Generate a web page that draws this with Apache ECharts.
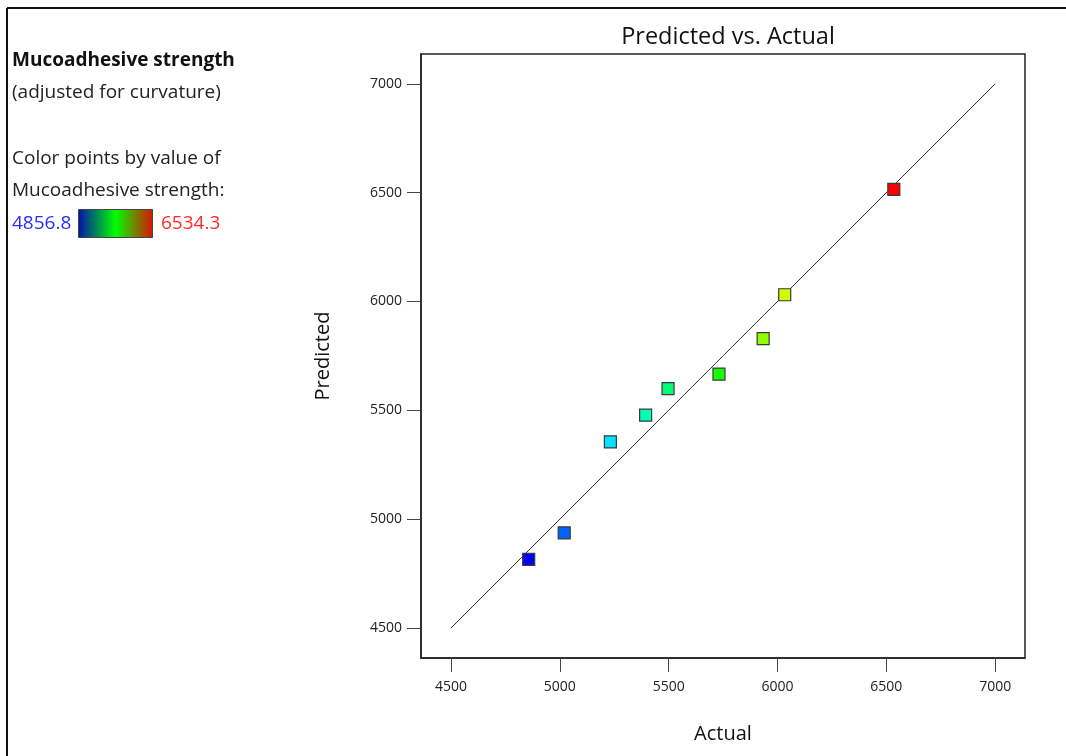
<!DOCTYPE html>
<html>
<head>
<meta charset="utf-8">
<title>Predicted vs. Actual</title>
<script src="https://cdn.jsdelivr.net/npm/echarts@6/dist/echarts.min.js"></script>
<style>
  html, body { margin: 0; padding: 0; background: #fff; }
  #chart { width: 1066px; height: 756px; }
</style>
</head>
<body>
<div id="chart"></div>
<script>
// 数据：实际值 / 预测值
var actual = [4856.8, 5020, 5232, 5394, 5497, 5731, 5934, 6033, 6534.3];
var predicted = [4815, 4937, 5355, 5478, 5600, 5666, 5829, 6031, 6515];
var tickValues = [4500, 5000, 5500, 6000, 6500, 7000];
var axisRange = [4362, 7137];
var colorRange = [4856.8, 6534.3];

var points = actual.map(function (a, i) { return [a, predicted[i]]; });
var diagonal = [[4500, 4500], [7000, 7000]];

var font = '"Open Sans", "Noto Sans", sans-serif';

function plain(v) { return String(v); }

function setScatter(ident) {
  var myChart = echarts.init(document.getElementById(ident));
  var option = {
    backgroundColor: '#fff',
    animation: false,
    textStyle: { fontFamily: font },
    title: {
      text: 'Predicted vs. Actual',
      left: 723,
      top: 20,
      textAlign: 'center',
      textStyle: { fontSize: 23.5, fontWeight: 'normal', color: '#111', fontFamily: font }
    },
    grid: {
      left: 421, top: 54, width: 604, height: 604,
      show: true, borderColor: '#222', borderWidth: 1.5, backgroundColor: 'transparent'
    },
    xAxis: {
      type: 'value',
      min: axisRange[0], max: axisRange[1],
      name: 'Actual',
      nameLocation: 'middle',
      nameGap: 66,
      nameTextStyle: { fontSize: 20, color: '#111' },
      axisLine: { show: true, lineStyle: { color: '#222', width: 1.5 } },
      axisTick: { show: true, length: 14, customValues: tickValues, lineStyle: { color: '#444' } },
      axisLabel: { customValues: tickValues, formatter: plain, fontSize: 14, color: '#222', margin: 22 },
      splitLine: { show: false }
    },
    yAxis: {
      type: 'value',
      min: axisRange[0], max: axisRange[1],
      name: 'Predicted',
      nameLocation: 'middle',
      nameGap: 88,
      nameTextStyle: { fontSize: 20, color: '#111' },
      axisLine: { show: true, lineStyle: { color: '#222', width: 1.5 } },
      axisTick: { show: true, length: 14, customValues: tickValues, lineStyle: { color: '#444' } },
      axisLabel: { customValues: tickValues, formatter: plain, fontSize: 14, color: '#222', margin: 19 },
      splitLine: { show: false }
    },
    visualMap: {
      show: false,
      type: 'continuous',
      seriesIndex: 0,
      dimension: 0,
      min: colorRange[0],
      max: colorRange[1],
      inRange: { color: ['#0000ff', '#00ffff', '#00ff00', '#ffff00', '#ff0000'] }
    },
    // 左侧说明文字和色条
    graphic: [
      { type: 'line', shape: { x1: 7, y1: 8, x2: 1066, y2: 8 }, style: { stroke: '#111', lineWidth: 2 } },
      { type: 'line', shape: { x1: 7, y1: 8, x2: 7, y2: 756 }, style: { stroke: '#111', lineWidth: 2 } },
      { type: 'text', left: 12, top: 51, style: { text: 'Mucoadhesive strength', font: 'bold 19px ' + font, fill: '#111' } },
      { type: 'text', left: 12, top: 83, style: { text: '(adjusted for curvature)', font: '19px ' + font, fill: '#222' } },
      { type: 'text', left: 12, top: 149, style: { text: 'Color points by value of', font: '19px ' + font, fill: '#222' } },
      { type: 'text', left: 12, top: 181, style: { text: 'Mucoadhesive strength:', font: '19px ' + font, fill: '#222' } },
      { type: 'text', left: 12, top: 214, style: { text: String(colorRange[0]), font: '19px ' + font, fill: '#2b2bff' } },
      { type: 'text', left: 161, top: 214, style: { text: String(colorRange[1]), font: '19px ' + font, fill: '#ff2a2a' } },
      {
        type: 'rect',
        shape: { x: 78.5, y: 209.5, width: 74, height: 28 },
        style: {
          fill: new echarts.graphic.LinearGradient(0, 0, 1, 0, [
            { offset: 0, color: '#0010b0' },
            { offset: 0.5, color: '#00ff00' },
            { offset: 1, color: '#dd1100' }
          ]),
          stroke: '#444', lineWidth: 1
        }
      }
    ],
    series: [
      {
        type: 'scatter',
        data: points,
        symbol: 'rect',
        symbolSize: 12,
        itemStyle: { borderColor: '#3a3a3a', borderWidth: 1.2, opacity: 1 },
        z: 3
      },
      {
        type: 'line',
        data: diagonal,
        symbol: 'none',
        lineStyle: { color: '#333', width: 1 },
        silent: true,
        z: 2
      }
    ]
  };
  myChart.setOption(option);
}

setScatter('chart');
</script>
</body>
</html>
